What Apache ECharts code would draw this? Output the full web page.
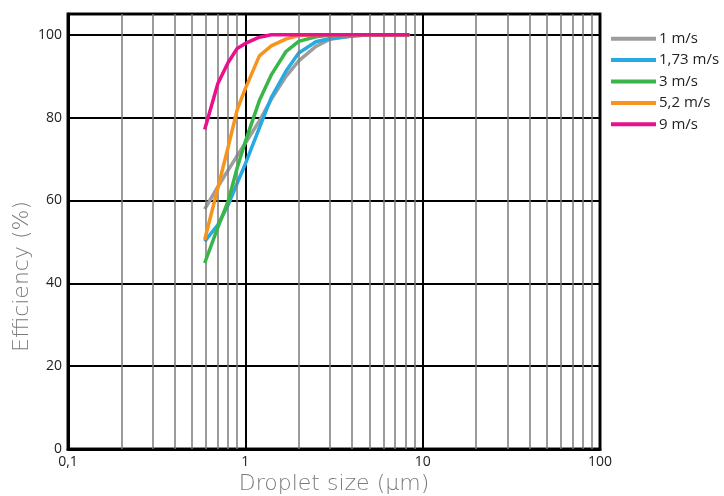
<!DOCTYPE html>
<html><head><meta charset="utf-8">
<script src="https://cdn.jsdelivr.net/npm/echarts@6/dist/echarts.min.js"></script>
<style>html,body{margin:0;padding:0;background:#fff}#c{width:724px;height:496px}</style>
</head><body><div id="c"></div>
<script>
const sizes = [0.59, 0.7, 0.8, 0.9, 1, 1.2, 1.4, 1.7, 2, 2.5, 3, 4, 5, 8.4];
const seriesNames = ['1 m/s', '1,73 m/s', '3 m/s', '5,2 m/s', '9 m/s'];
const eff1 = [57.9, 63.3, 67.3, 70.8, 73.8, 79.2, 84.4, 90.0, 93.7, 97.2, 98.9, 99.7, 100, 100];
const eff173 = [50.1, 54.1, 58.9, 64.2, 68.8, 77.5, 84.8, 91.3, 95.6, 98.3, 99.1, 99.7, 100, 100];
const eff3 = [44.9, 53.5, 59.8, 67.9, 74.2, 84.1, 90.3, 96.0, 98.4, 99.5, 99.9, 100, 100, 100];
const eff52 = [50.5, 63.0, 72.9, 81.9, 87.0, 94.9, 97.3, 99.0, 99.8, 100, 100, 100, 100, 100];
const eff9 = [77.1, 88.2, 93.3, 96.7, 97.9, 99.4, 100, 100, 100, 100, 100, 100, 100, 100];
const minorGrid = [0.2,0.3,0.4,0.5,0.6,0.7,0.8,0.9,2,3,4,5,6,7,8,9,20,30,40,50,60,70,80,90];
const xTicks = [0.1, 1, 10, 100];
const yTicks = [0, 20, 40, 60, 80, 100];

const colors = ['#9d9d9d', '#27aae1', '#39b54a', '#f7941d', '#ec0f8c'];
const allEff = [eff1, eff173, eff3, eff52, eff9];

const chart = echarts.init(document.getElementById('c'), null, {renderer: 'canvas'});
const series = [{
  name: 'grid', type: 'line', data: [], z: 1, silent: true,
  markLine: {
    silent: true, symbol: ['none', 'none'], label: {show: false},
    lineStyle: {color: '#7a7a7a', width: 1.5, type: 'solid'},
    animation: false,
    data: minorGrid.map(v => ({xAxis: v}))
  }
}];
allEff.forEach((arr, i) => {
  series.push({
    name: seriesNames[i], type: 'line', z: 3 + i,
    showSymbol: false, symbol: 'none', smooth: false,
    lineStyle: {color: colors[i], width: 3.5},
    itemStyle: {color: colors[i]},
    data: sizes.map((s, j) => [s, arr[j]])
  });
});

chart.setOption({
  animation: false,
  grid: {left: 68, right: 124, top: 14, bottom: 47, show: true, borderColor: '#111', borderWidth: 3, outerBoundsMode: 'none'},
  legend: {
    data: seriesNames, orient: 'vertical', left: 606, top: 25,
    icon: 'rect', itemWidth: 45, itemHeight: 4, itemGap: 4, itemStyle: {borderWidth: 0},
    textStyle: {fontSize: 15, color: '#222', lineHeight: 17.4, fontFamily: 'Open Sans', padding: [0, 0, 0, -2]}
  },
  xAxis: {
    type: 'log', logBase: 10, min: 0.1, max: 100,
    name: 'Droplet size (µm)', nameLocation: 'middle', nameGap: 24, nameMoveOverlap: false,
    nameTextStyle: {fontSize: 22, color: '#7a7a7a', fontFamily: 'DejaVu Sans', fontWeight: 200},
    axisLine: {show: true, lineStyle: {color: '#000', width: 3}},
    axisTick: {show: false},
    axisLabel: {fontSize: 14, color: '#222', margin: 6, fontFamily: 'Open Sans',
      formatter: v => String(+(+v).toPrecision(6)).replace('.', ',')},
    splitLine: {show: true, lineStyle: {color: '#000', width: 2}},
    minorSplitLine: {show: false}
  },
  yAxis: {
    type: 'value', min: 0, max: 105, interval: 20,
    name: 'Efficiency (%)', nameLocation: 'middle', nameGap: 35, nameRotate: 90, nameMoveOverlap: false,
    nameTextStyle: {fontSize: 22, color: '#7a7a7a', fontFamily: 'DejaVu Sans', fontWeight: 200, padding: [0, 90, 0, 0]},
    axisLine: {show: true, lineStyle: {color: '#000', width: 3}},
    axisTick: {show: false},
    axisLabel: {fontSize: 14, color: '#222', margin: 6, fontFamily: 'Open Sans', showMaxLabel: false,
      formatter: v => (yTicks.indexOf(v) >= 0 ? String(v) : '')},
    splitLine: {show: true, lineStyle: {color: '#000', width: 2}}
  },
  series: series
});
</script></body></html>
